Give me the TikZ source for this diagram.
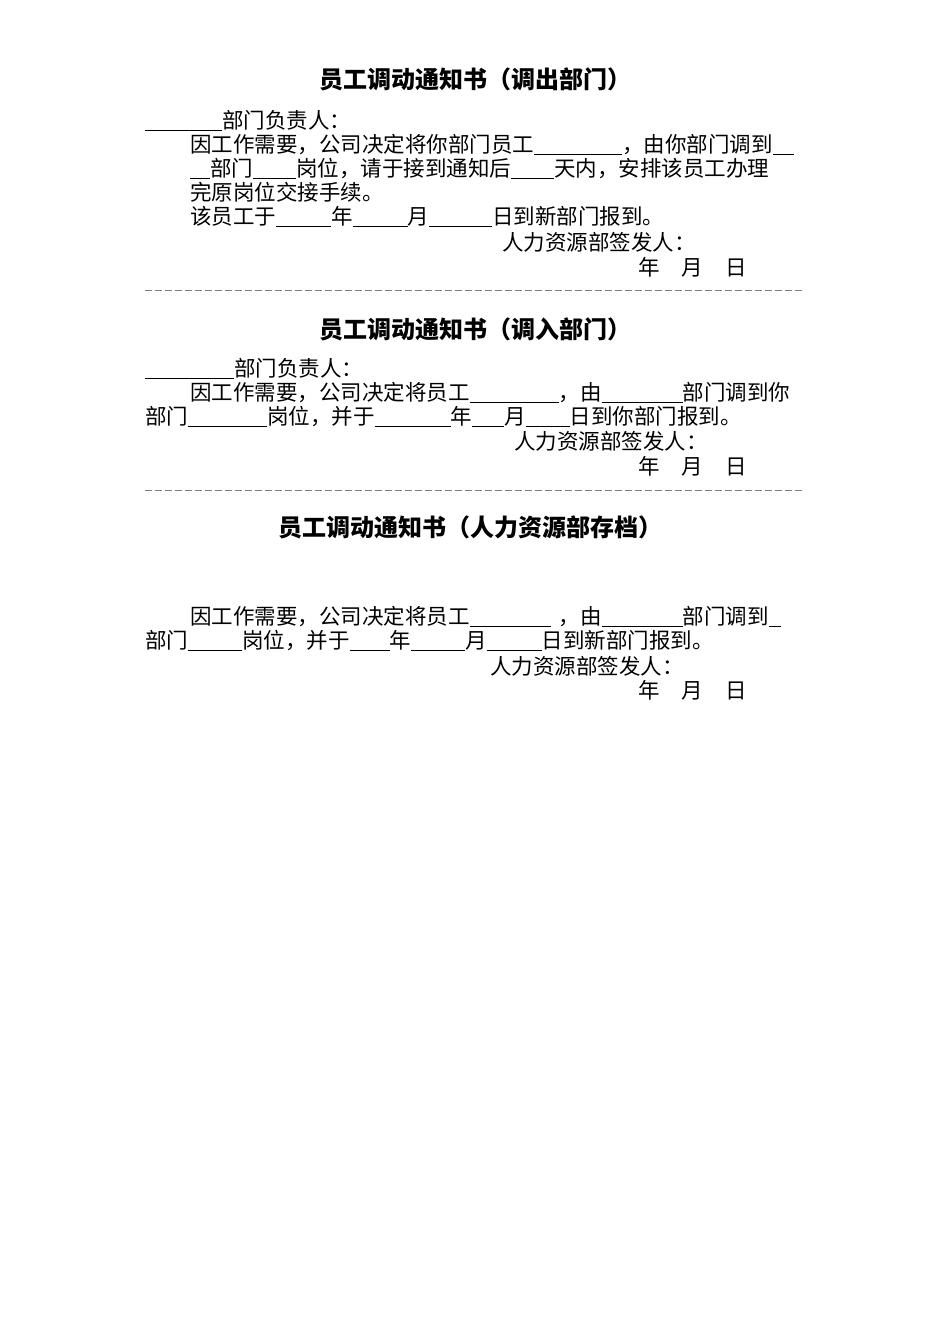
\documentclass[tikz,border=0pt]{standalone}
\usepackage{fontspec}
\newfontfamily\cjk{Noto Sans CJK SC}
\newcommand{\bk}[1]{\rule[-3pt]{#1pt}{1pt}}
\tikzset{ln/.style={anchor=base west,inner sep=0pt,font=\cjk\fontsize{21.5}{24}\selectfont},
ttl/.style={anchor=base,inner sep=0pt,font=\cjk\bfseries\fontsize{24}{28}\selectfont},
sep/.style={draw=gray,line width=0.8pt,dash pattern=on 7pt off 3pt}}
\begin{document}
\begin{tikzpicture}[x=1pt,y=-1pt]
\useasboundingbox[fill=white] (0,0) rectangle (950,1344);
\node[ttl] (t1) at (475,88) {员工调动通知书（调出部门）};
\node[ln] (a1) at (145,128) {\bk{77}部门负责人：};
\node[ln] (a2) at (190,152) {因工作需要，公司决定将你部门员工\bk{88}，由你部门调到\bk{21}};
\node[ln] (a3) at (190,176) {\bk{20}部门\bk{43}岗位，请于接到通知后\bk{43}天内，安排该员工办理};
\node[ln] (a4) at (190,200) {完原岗位交接手续。};
\node[ln] (a5) at (190,224) {该员工于\bk{55}年\bk{55}月\bk{63}日到新部门报到。};
\node[ln] (a6) at (502,250) {人力资源部签发人：};
\node[ln] (a7) at (638,275) {年\hspace{22pt}月\hspace{22pt}日};
\coordinate (d1a) at (145,290); \coordinate (d1b) at (803,290);
\draw[sep] (d1a) -- (d1b);
\node[ttl] (t2) at (475,338) {员工调动通知书（调入部门）};
\node[ln] (b1) at (145,376) {\bk{89}部门负责人：};
\node[ln] (b2) at (190,400) {因工作需要，公司决定将员工\bk{89}，由\bk{81}部门调到你};
\node[ln] (b3) at (145,424) {部门\bk{79}岗位，并于\bk{76}年\bk{32}月\bk{44}日到你部门报到。};
\node[ln] (b4) at (514,449) {人力资源部签发人：};
\node[ln] (b5) at (638,474) {年\hspace{22pt}月\hspace{22pt}日};
\coordinate (d2a) at (145,490); \coordinate (d2b) at (803,490);
\draw[sep] (d2a) -- (d2b);
\node[ttl] (t3) at (470,536) {员工调动通知书（人力资源部存档）};
\node[ln] (c1) at (190,624) {因工作需要，公司决定将员工\bk{81}\hspace{8pt}，由\bk{81}部门调到\bk{12}};
\node[ln] (c2) at (145,648) {部门\bk{54}岗位，并于\bk{40}年\bk{54}月\bk{55}日到新部门报到。};
\node[ln] (c3) at (490,674) {人力资源部签发人：};
\node[ln] (c4) at (638,698) {年\hspace{22pt}月\hspace{22pt}日};
\end{tikzpicture}
\end{document}
